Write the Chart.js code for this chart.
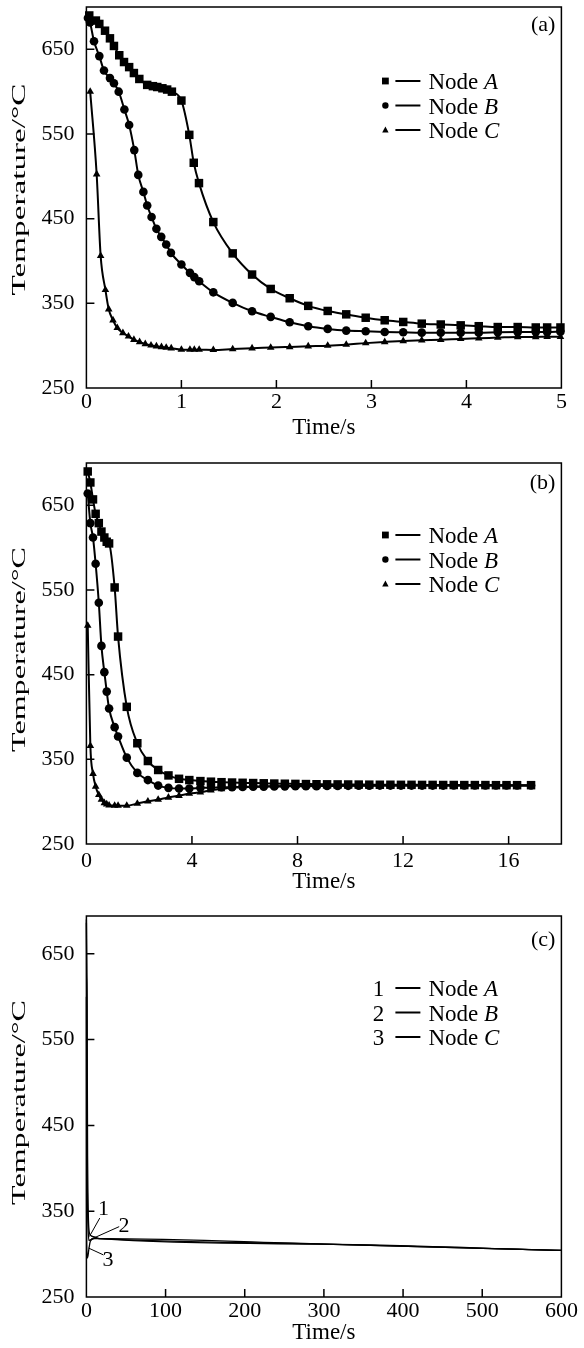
<!DOCTYPE html>
<html>
<head>
<meta charset="utf-8">
<script src="https://cdn.jsdelivr.net/npm/chart.js@4.4.1/dist/chart.umd.min.js"></script>
<style>
  html, body { margin: 0; padding: 0; background: #fff; }
  #contenedor { position: relative; width: 584px; height: 1348px; }
  canvas { position: absolute; left: 0; }
</style>
</head>
<body>
<div id="contenedor">
  <canvas id="graficoA" width="584" height="442" style="top:0px"></canvas>
  <canvas id="graficoB" width="584" height="456" style="top:440px"></canvas>
  <canvas id="graficoC" width="584" height="458" style="top:890px"></canvas>
</div>
<script>
// ---- datos ----
const nodos = ['A', 'B', 'C'];
const yTicks = [250, 350, 450, 550, 650];
const xTicksA = [0, 1, 2, 3, 4, 5];
const xTicksB = [0, 4, 8, 12, 16];
const xTicksC = [0, 100, 200, 300, 400, 500, 600];

// (a) 0 - 5 s
const aTimeA = [0.03, 0.10, 0.136, 0.196, 0.248, 0.29, 0.346, 0.396, 0.45, 0.5, 0.557, 0.64, 0.7, 0.746, 0.8, 0.85, 0.9, 1.0, 1.083, 1.13, 1.185, 1.336, 1.54, 1.744, 1.94, 2.14, 2.335, 2.54, 2.735, 2.94, 3.14, 3.335, 3.53, 3.73, 3.94, 4.13, 4.33, 4.54, 4.73, 4.85, 4.99];
const aTempA = [690, 684, 680, 672, 663, 654, 643, 635, 629, 622, 615, 608, 606.5, 605.5, 604, 602.5, 600, 589.5, 549, 516, 492, 446, 409, 384, 367, 356, 347, 341, 337, 333, 330, 328, 326, 325, 324, 323, 322, 322, 321.5, 321.5, 321.5];
const aTimeB = [0.016, 0.038, 0.08, 0.136, 0.185, 0.248, 0.29, 0.34, 0.4, 0.45, 0.504, 0.546, 0.6, 0.64, 0.686, 0.737, 0.788, 0.84, 0.89, 1.0, 1.09, 1.136, 1.187, 1.336, 1.54, 1.744, 1.94, 2.14, 2.335, 2.54, 2.735, 2.94, 3.14, 3.335, 3.53, 3.73, 3.94, 4.13, 4.33, 4.54, 4.73, 4.85, 4.99];
const aTempB = [687, 681.7, 659.5, 642, 625, 616, 610, 600, 579, 560.7, 531, 501.7, 481.6, 465.6, 452, 438, 428.5, 419.5, 409.6, 395.8, 386, 381, 376, 363, 350.5, 340.6, 334, 327.6, 323, 319.8, 317.8, 317, 316.2, 315.8, 315.4, 315.4, 315.4, 315.4, 315.8, 316, 316, 316, 316.5];
const aTimeC = [0.04, 0.108, 0.15, 0.2, 0.235, 0.28, 0.325, 0.384, 0.443, 0.5, 0.56, 0.62, 0.68, 0.737, 0.79, 0.84, 0.893, 1.0, 1.09, 1.136, 1.187, 1.336, 1.54, 1.744, 1.94, 2.14, 2.335, 2.54, 2.735, 2.94, 3.14, 3.335, 3.53, 3.73, 3.94, 4.13, 4.33, 4.54, 4.73, 4.85, 4.99];
const aTempC = [600, 502.5, 406, 366, 343, 330, 321, 315, 311, 307, 304.4, 302, 300.4, 299.3, 298.5, 297.7, 297, 295.3, 295.3, 295.3, 295.3, 295, 296, 297, 297.7, 298.5, 299.3, 300, 301.2, 303, 304.4, 305.6, 306.4, 307, 308, 308.7, 309.5, 310.3, 310.3, 310.5, 310.5];

// (b) 0 - 17 s
const bTime = [0.05, 0.15, 0.25, 0.35, 0.47, 0.57, 0.68, 0.77, 0.86, 1.07, 1.2, 1.53, 1.93, 2.33, 2.72, 3.11, 3.51, 3.9, 4.32, 4.72, 5.12, 5.52, 5.92, 6.32, 6.72, 7.12, 7.52, 7.92, 8.32, 8.72, 9.12, 9.52, 9.92, 10.32, 10.72, 11.12, 11.52, 11.92, 12.32, 12.72, 13.12, 13.52, 13.92, 14.32, 14.72, 15.12, 15.52, 15.92, 16.32, 16.85];
const bTempA = [690, 677, 657, 640, 629, 619, 612, 607, 605, 553, 495, 412, 369, 348, 337.4, 331, 327, 325.5, 324.3, 323.6, 323, 322.6, 322.3, 322, 321.7, 321.4, 321.2, 321, 320.8, 320.6, 320.5, 320.4, 320.3, 320.2, 320.1, 320, 320, 319.9, 319.9, 319.8, 319.8, 319.7, 319.7, 319.6, 319.6, 319.6, 319.5, 319.5, 319.5, 319.5];
const bTempB = [664, 629, 612, 581, 535, 484, 453, 430, 410, 388, 377, 352, 334, 325.5, 319, 316.3, 315.5, 315.5, 316.3, 316.6, 317, 317.2, 317.4, 317.6, 317.8, 318, 318.1, 318.2, 318.3, 318.4, 318.5, 318.6, 318.7, 318.8, 318.9, 319, 319, 319, 319, 319, 319, 319, 319.1, 319.1, 319.1, 319.1, 319.1, 319.2, 319.2, 319.2];
const bTempC = [508, 366, 333, 318, 308, 302.5, 298.5, 297, 295.7, 295.3, 295.3, 295.3, 297.7, 300.4, 302.4, 305, 307, 309.6, 311, 313.5, 315, 316.3, 317, 317.5, 318, 318.2, 318.5, 318.7, 318.8, 318.9, 319, 319, 319, 319, 319, 319, 319, 319, 319, 319, 319, 319, 319.1, 319.1, 319.1, 319.1, 319.1, 319.2, 319.2, 319.2];

// (c) 0 - 600 s
const cTimeA = [0, 0.5, 1, 1.2, 1.5, 2, 3, 5, 10, 17, 300, 600];
const cTempA = [690, 628, 590, 495, 415, 367, 331, 322, 320, 318, 311.6, 304.3];
const cTimeB = [0, 0.3, 0.5, 0.7, 1, 1.5, 2, 3, 5, 10, 17, 300, 600];
const cTempB = [686, 605, 531, 450, 396, 352, 334, 316, 316.5, 318, 318, 311.6, 304.3];
const cTimeC = [0, 0.1, 0.2, 0.35, 0.6, 1, 2, 3, 5, 10, 17, 300, 600];
const cTempC = [600, 502, 366, 318, 302, 295.3, 298, 305, 315, 318.5, 318, 311.6, 304.3];

// etiquetas 1,2,3 de la figura (c): [texto, tiempo, temp, linea desde t,T hasta t,T]
const llamadas = [
  ['1', 21.6, 352, 3.8, 320.5, 16.9, 342],
  ['2', 47.5, 333, 6.1, 317.4, 41.4, 332],
  ['3', 27.3, 293.4, 2.8, 307, 21.6, 299]
];

const familia = '"Liberation Serif", "Times New Roman", serif';
const fuente = { family: familia, size: 22 };
const fuenteTitulo = { family: familia, size: 23 };

function dibujarMarca(ctx, estilo, x, y, r) {
  ctx.beginPath();
  if (estilo === 'rect') {
    ctx.rect(x - r, y - r, 2 * r, 2 * r);
  } else if (estilo === 'circle') {
    ctx.arc(x, y, r, 0, Math.PI * 2);
  } else {
    ctx.moveTo(x, y - r * 1.1);
    ctx.lineTo(x + r, y + r * 0.75);
    ctx.lineTo(x - r, y + r * 0.75);
    ctx.closePath();
  }
  ctx.fill();
}

// marco, ticks hacia dentro, titulo Y, leyenda, etiqueta del panel
const marcoPlugin = {
  id: 'marco',
  afterDraw(chart, args, opts) {
    const ctx = chart.ctx;
    const area = chart.chartArea;
    const sx = chart.scales.x, sy = chart.scales.y;
    ctx.save();
    ctx.strokeStyle = '#000';
    ctx.fillStyle = '#000';
    ctx.lineWidth = 1.5;
    ctx.strokeRect(area.left, area.top, area.right - area.left, area.bottom - area.top);

    ctx.beginPath();
    sx.ticks.forEach(t => {
      if (t.value > sx.min && t.value < sx.max) {
        const px = sx.getPixelForValue(t.value);
        ctx.moveTo(px, area.bottom);
        ctx.lineTo(px, area.bottom - 8);
      }
    });
    sy.ticks.forEach(t => {
      if (t.value > sy.min && t.value < sy.max) {
        const py = sy.getPixelForValue(t.value);
        ctx.moveTo(area.left, py);
        ctx.lineTo(area.left + 8, py);
      }
    });
    ctx.stroke();

    // titulo del eje Y (en la figura va estirado a lo largo)
    ctx.save();
    ctx.font = '19px ' + familia;
    const textoY = 'Temperature/°C';
    const ancho = ctx.measureText(textoY).width;
    ctx.translate(opts.tituloX, (area.top + area.bottom) / 2 - opts.subeTitulo);
    ctx.rotate(-Math.PI / 2);
    ctx.scale(opts.largoTitulo / ancho, 1);
    ctx.textAlign = 'center';
    ctx.textBaseline = 'middle';
    ctx.fillText(textoY, 0, 0);
    ctx.restore();

    // (a) (b) (c)
    ctx.font = '22px ' + familia;
    ctx.textAlign = 'right';
    ctx.textBaseline = 'middle';
    ctx.fillText(opts.panel, area.right - 6, area.top + opts.panelY);

    // leyenda
    const x0 = area.right - 176;
    nodos.forEach((letra, i) => {
      const yy = area.top + opts.leyendaY + i * 24.5;
      ctx.textBaseline = 'alphabetic';
      if (opts.numeros) {
        ctx.font = '23px ' + familia;
        ctx.textAlign = 'center';
        ctx.fillText(String(i + 1), x0 - 7, yy + 8);
      } else {
        dibujarMarca(ctx, opts.marcas[i], x0, yy, i === 0 ? 3.4 : 3.2);
      }
      ctx.lineWidth = 2;
      ctx.beginPath();
      ctx.moveTo(x0 + 10, yy);
      ctx.lineTo(x0 + 35, yy);
      ctx.stroke();
      ctx.textAlign = 'left';
      ctx.font = '23px ' + familia;
      ctx.fillText('Node ', x0 + 43, yy + 8);
      const w = ctx.measureText('Node ').width;
      ctx.font = 'italic 23px ' + familia;
      ctx.fillText(letra, x0 + 43 + w, yy + 8);
    });

    // llamadas 1 2 3
    if (opts.llamadas) {
      ctx.lineWidth = 1;
      ctx.font = '22px ' + familia;
      ctx.textAlign = 'center';
      ctx.textBaseline = 'middle';
      opts.llamadas.forEach(l => {
        ctx.beginPath();
        ctx.moveTo(sx.getPixelForValue(l[3]), sy.getPixelForValue(l[4]));
        ctx.lineTo(sx.getPixelForValue(l[5]), sy.getPixelForValue(l[6]));
        ctx.stroke();
        ctx.fillText(l[0], sx.getPixelForValue(l[1]), sy.getPixelForValue(l[2]));
      });
    }
    ctx.restore();
  }
};

function serie(tiempos, temps, estilo, radio, grosor) {
  return {
    data: tiempos.map((t, i) => ({ x: t, y: temps[i] })),
    showLine: true,
    borderColor: '#000',
    backgroundColor: '#000',
    borderWidth: grosor,
    pointStyle: estilo,
    pointRadius: radio,
    pointBorderWidth: 0,
    cubicInterpolationMode: 'monotone',
    clip: false
  };
}

function crearGrafico(id, cfg) {
  new Chart(document.getElementById(id), {
    type: 'scatter',
    plugins: [marcoPlugin],
    data: { datasets: cfg.datasets },
    options: {
      responsive: false,
      animation: false,
      events: [],
      layout: { padding: { top: cfg.arriba, right: 22.6, bottom: cfg.abajo, left: 0 } },
      scales: {
        x: {
          type: 'linear',
          min: 0,
          max: cfg.xMax,
          afterBuildTicks: s => { s.ticks = cfg.xTicks.map(v => ({ value: v })); },
          afterFit: s => { s.height = cfg.altoX; s.paddingLeft = 0; s.paddingRight = 0; },
          grid: { display: false, drawTicks: false },
          border: { display: false },
          ticks: { color: '#000', font: fuente, padding: cfg.padX, maxRotation: 0, autoSkip: false },
          title: { display: true, text: 'Time/s', color: '#000', font: fuenteTitulo, padding: 0 }
        },
        y: {
          type: 'linear',
          min: 250,
          max: cfg.yMax,
          afterBuildTicks: s => { s.ticks = yTicks.map(v => ({ value: v })); },
          afterFit: s => { s.width = 86.4; s.paddingTop = 0; s.paddingBottom = 0; },
          grid: { display: false, drawTicks: false },
          border: { display: false },
          ticks: { color: '#000', font: fuente, padding: 12, autoSkip: false }
        }
      },
      plugins: {
        legend: { display: false },
        tooltip: { enabled: false },
        marco: cfg.marco
      }
    }
  });
}

const marcas = ['rect', 'circle', 'triangle'];

crearGrafico('graficoA', {
  xMax: 5, yMax: 700, xTicks: xTicksA, arriba: 7, abajo: 0, altoX: 54, padX: 1,
  datasets: [
    serie(aTimeA, aTempA, 'rect', 6, 2),
    serie(aTimeB, aTempB, 'circle', 4.3, 2),
    serie(aTimeC, aTempC, 'triangle', 4.4, 2)
  ],
  marco: { panel: '(a)', panelY: 18, leyendaY: 74, marcas: marcas, tituloX: 20, largoTitulo: 212, subeTitulo: 8 }
});

crearGrafico('graficoB', {
  xMax: 18, yMax: 700, xTicks: xTicksB, arriba: 23, abajo: 0, altoX: 52, padX: 4,
  datasets: [
    serie(bTime, bTempA, 'rect', 6, 2),
    serie(bTime, bTempB, 'circle', 4.3, 2),
    serie(bTime, bTempC, 'triangle', 4.4, 2)
  ],
  marco: { panel: '(b)', panelY: 20, leyendaY: 72, marcas: marcas, tituloX: 20, largoTitulo: 205, subeTitulo: 4 }
});

crearGrafico('graficoC', {
  xMax: 600, yMax: 694, xTicks: xTicksC, arriba: 26, abajo: 1.2, altoX: 49.8, padX: 1,
  datasets: [
    serie(cTimeA, cTempA, 'circle', 0, 1.3),
    serie(cTimeB, cTempB, 'circle', 0, 1.3),
    serie(cTimeC, cTempC, 'circle', 0, 1.3)
  ],
  marco: { panel: '(c)', panelY: 24, leyendaY: 72, numeros: true, llamadas: llamadas, tituloX: 20, largoTitulo: 205, subeTitulo: 4 }
});
</script>
</body>
</html>
